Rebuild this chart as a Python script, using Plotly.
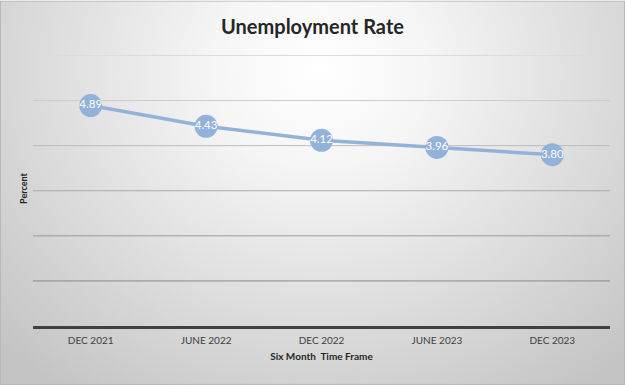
import base64
import plotly.graph_objects as go

categories = ["DEC 2021", "JUNE 2022", "DEC 2022", "JUNE 2023", "DEC 2023"]
rates = [4.89, 4.43, 4.12, 3.96, 3.80]
labels = ["4.89", "4.43", "4.12", "3.96", "3.80"]
grid_values = [1, 2, 3, 4, 5, 6]
grid_colors = ["#8a8a8a", "#9a9a9a", "#aaaaaa", "#bcbcbc", "#cbcbcb", "#dcdcdc"]

W, H = 625, 385
ML, MR, MT, MB = 33, 15, 50.5, 59
PW, PH = W - ML - MR, H - MT - MB

svg = f'''<svg xmlns="http://www.w3.org/2000/svg" width="{W}" height="{H}" viewBox="0 0 {W} {H}">
<defs><radialGradient id="g" gradientUnits="userSpaceOnUse" cx="320" cy="70" r="440" gradientTransform="translate(320 70) scale(1 0.9) translate(-320 -70)">
<stop offset="0" stop-color="#ffffff"/><stop offset="0.25" stop-color="#f5f5f5"/><stop offset="1" stop-color="#c4c4c4"/></radialGradient></defs>
<rect x="0" y="0" width="{W}" height="{H}" fill="url(#g)"/>
<rect x="0.5" y="0.5" width="{W-1}" height="{H-1}" fill="none" stroke="#b8b8b8" stroke-width="1"/>
</svg>'''
src = "data:image/svg+xml;base64," + base64.b64encode(svg.encode()).decode()

col = "#93b2da"
fig = go.Figure(go.Scatter(
    x=categories, y=rates, mode="lines+markers+text",
    line=dict(color=col, width=3.5),
    marker=dict(size=23, color=col),
    text=labels, textposition="middle center",
    textfont=dict(color="white", size=11.5, family="Lato"),
    hoverinfo="skip",
))

shapes = [dict(type="line", xref="paper", x0=0, x1=1, yref="y", y0=v, y1=v,
               line=dict(color=c, width=1), layer="below")
          for v, c in zip(grid_values, grid_colors)]

fig.update_layout(
    width=W, height=H,
    margin=dict(l=ML, r=MR, t=MT, b=MB, autoexpand=False),
    paper_bgcolor="rgba(0,0,0,0)", plot_bgcolor="rgba(0,0,0,0)",
    showlegend=False,
    title=dict(text="Unemployment Rate", x=0.5, xanchor="center", y=1 - 27 / H, yanchor="middle",
               font=dict(family="Lato", size=20, color="#262626", weight="bold")),
    images=[dict(source=src, xref="paper", yref="paper", x=-ML / PW, y=1 + MT / PH,
                 sizex=W / PW, sizey=H / PH, sizing="stretch", xanchor="left", yanchor="top",
                 layer="below")],
    shapes=shapes,
    font=dict(family="Lato"),
)
fig.update_xaxes(
    range=[-0.5, len(categories) - 0.5],
    showgrid=False, showline=True, linecolor="#404040", linewidth=2.5,
    ticks="", ticklabelstandoff=3, tickfont=dict(size=10, color="#404040", family="Lato"),
    title=dict(text="Six Month  Time Frame", standoff=9,
               font=dict(size=10, color="#262626", family="Lato", weight="bold")),
)
fig.update_yaxes(
    range=[0, 6.1], tickvals=grid_values, showticklabels=False, zeroline=False,
    showgrid=False,
    title=dict(text="Percent", standoff=2,
               font=dict(size=9, color="#262626", family="Lato", weight="bold")),
)

fig.write_html("out.html", config={"displayModeBar": False},
               post_script="document.body.style.margin='0';document.body.style.overflow='hidden';")
